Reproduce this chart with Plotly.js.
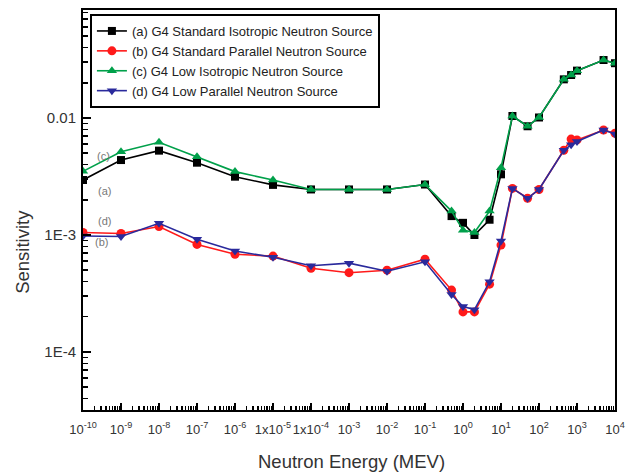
<!DOCTYPE html>
<html>
<head>
<meta charset="utf-8">
<script src="https://cdn.plot.ly/plotly-3.0.1.min.js"></script>
<style>html,body{margin:0;padding:0;background:#fff;}#chart{width:628px;height:474px;}</style>
</head>
<body>
<div id="chart"></div>
<script>
// Neutron energy (MeV)
const energy = [1e-10, 1e-9, 1e-8, 1e-7, 1e-6, 1e-5, 1e-4, 1e-3, 1e-2, 1e-1, 0.5, 1, 2, 5, 10, 20, 50, 100, 450, 700, 1000, 5000, 10000];

const seriesNames = [
  "(a) G4 Standard Isotropic Neutron Source",
  "(b) G4 Standard Parallel Neutron Source",
  "(c) G4 Low Isotropic Neutron Source",
  "(d) G4 Low Parallel Neutron Source"
];

const stdIsotropic = [2.95e-3, 4.37e-3, 5.26e-3, 4.15e-3, 3.15e-3, 2.68e-3, 2.45e-3, 2.45e-3, 2.45e-3, 2.7e-3, 1.45e-3, 1.27e-3, 1.0e-3, 1.35e-3, 3.3e-3, 1.04e-2, 8.5e-3, 1.01e-2, 2.14e-2, 2.33e-2, 2.54e-2, 3.13e-2, 2.94e-2];
const stdParallel  = [1.05e-3, 1.03e-3, 1.18e-3, 8.3e-4, 6.84e-4, 6.6e-4, 5.19e-4, 4.76e-4, 5.0e-4, 6.2e-4, 3.38e-4, 2.2e-4, 2.2e-4, 3.8e-4, 8.2e-4, 2.5e-3, 2.06e-3, 2.45e-3, 5.3e-3, 6.6e-3, 6.5e-3, 7.9e-3, 7.4e-3];
const lowIsotropic = [3.5e-3, 5.15e-3, 6.2e-3, 4.67e-3, 3.48e-3, 2.95e-3, 2.45e-3, 2.45e-3, 2.45e-3, 2.7e-3, 1.6e-3, 1.1e-3, 1.05e-3, 1.6e-3, 3.76e-3, 1.04e-2, 8.5e-3, 1.01e-2, 2.14e-2, 2.33e-2, 2.54e-2, 3.13e-2, 2.94e-2];
const lowParallel  = [9.8e-4, 9.7e-4, 1.26e-3, 9.2e-4, 7.3e-4, 6.45e-4, 5.46e-4, 5.74e-4, 4.9e-4, 5.9e-4, 3.1e-4, 2.45e-4, 2.3e-4, 3.98e-4, 8.9e-4, 2.5e-3, 2.06e-3, 2.45e-3, 5.3e-3, 5.9e-3, 6.3e-3, 7.9e-3, 7.3e-3];

const xTickVals = [1e-10,1e-9,1e-8,1e-7,1e-6,1e-5,1e-4,1e-3,1e-2,1e-1,1,10,100,1000,10000];
const xTickText = ["10<sup>-10</sup>","10<sup>-9</sup>","10<sup>-8</sup>","10<sup>-7</sup>","10<sup>-6</sup>","1x10<sup>-5</sup>","1x10<sup>-4</sup>","10<sup>-3</sup>","10<sup>-2</sup>","10<sup>-1</sup>","10<sup>0</sup>","10<sup>1</sup>","10<sup>2</sup>","10<sup>3</sup>","10<sup>4</sup>"];
const yTickVals = [1e-4, 1e-3, 1e-2];
const yTickText = ["1E-4", "1E-3", "0.01"];

const xTitle = "Neutron Energy (MEV)";
const yTitle = "Sensitivity";
const curveLabels = ["(c)", "(a)", "(d)", "(b)"];

function minorVals(lo, hi) {
  const v = [];
  for (let e = lo; e < hi; e++) for (let k = 2; k <= 9; k++) v.push(k * Math.pow(10, e));
  return v;
}

const colors = ["#000000", "#ff1a1a", "#00a04a", "#2a2a9c"];
const symbols = ["square", "circle", "triangle-up", "triangle-down"];
const ys = [stdIsotropic, stdParallel, lowIsotropic, lowParallel];

const traces = ys.map((y, i) => ({
  x: energy, y: y, name: seriesNames[i], type: "scatter", mode: "lines+markers",
  line: {color: colors[i], width: 1.6},
  marker: {symbol: symbols[i], size: i === 0 ? 8 : 9, color: colors[i]}
}));

const labelPos = [[0.022, 0.635], [0.024, 0.548], [0.024, 0.473], [0.018, 0.42]];

const annotations = curveLabels.map((t, i) => ({
  text: t, xref: "paper", yref: "paper", x: labelPos[i][0], y: labelPos[i][1],
  xanchor: "left", yanchor: "middle", showarrow: false,
  font: {size: 11, color: "#777"}
}));
// axis titles as text annotations (y title sits below the axis centre in the reference)
annotations.push({
  text: yTitle, xref: "paper", yref: "paper", x: -0.115, y: 0.395,
  xanchor: "center", yanchor: "middle", textangle: -90, showarrow: false,
  font: {size: 18.5, color: "#333"}
});
annotations.push({
  text: xTitle, xref: "paper", yref: "paper", x: 0.505, y: -0.13,
  xanchor: "center", yanchor: "middle", showarrow: false,
  font: {size: 18.5, color: "#333"}
});

const layout = {
  width: 628, height: 474,
  margin: {l: 83, r: 13, t: 10, b: 64},
  paper_bgcolor: "#fff", plot_bgcolor: "#fff",
  font: {family: "Liberation Sans, Arial, sans-serif", color: "#333"},
  showlegend: true,
  legend: {
    x: 0.013, y: 0.99, xanchor: "left", yanchor: "top",
    bgcolor: "#fff", bordercolor: "#000", borderwidth: 2,
    font: {size: 13, color: "#222"}, tracegroupgap: 0
  },
  xaxis: {
    type: "log", range: [-10, 4],
    tickmode: "array", tickvals: xTickVals, ticktext: xTickText, tickangle: 0,
    ticks: "inside", ticklen: 7, tickwidth: 1.5, tickcolor: "#000",
    minor: {tickmode: "array", tickvals: minorVals(-10, 4), ticks: "inside", ticklen: 4, tickcolor: "#000", showgrid: false},
    showline: true, linecolor: "#000", linewidth: 2, mirror: true,
    showgrid: false, zeroline: false, ticklabelstandoff: 6,
    tickfont: {size: 13, color: "#333"}
  },
  yaxis: {
    type: "log", range: [Math.log10(3.19e-5), Math.log10(0.0838)],
    tickmode: "array", tickvals: yTickVals, ticktext: yTickText,
    ticks: "inside", ticklen: 8, tickwidth: 1.5, tickcolor: "#000",
    minor: {tickmode: "array", tickvals: minorVals(-5, -1), ticks: "inside", ticklen: 5, tickcolor: "#000", showgrid: false},
    showline: true, linecolor: "#000", linewidth: 2, mirror: true,
    showgrid: false, zeroline: false, ticklabelstandoff: 2,
    tickfont: {size: 15, color: "#333"}
  },
  annotations: annotations
};

Plotly.newPlot("chart", traces, layout, {displayModeBar: false, staticPlot: true});
</script>
</body>
</html>
